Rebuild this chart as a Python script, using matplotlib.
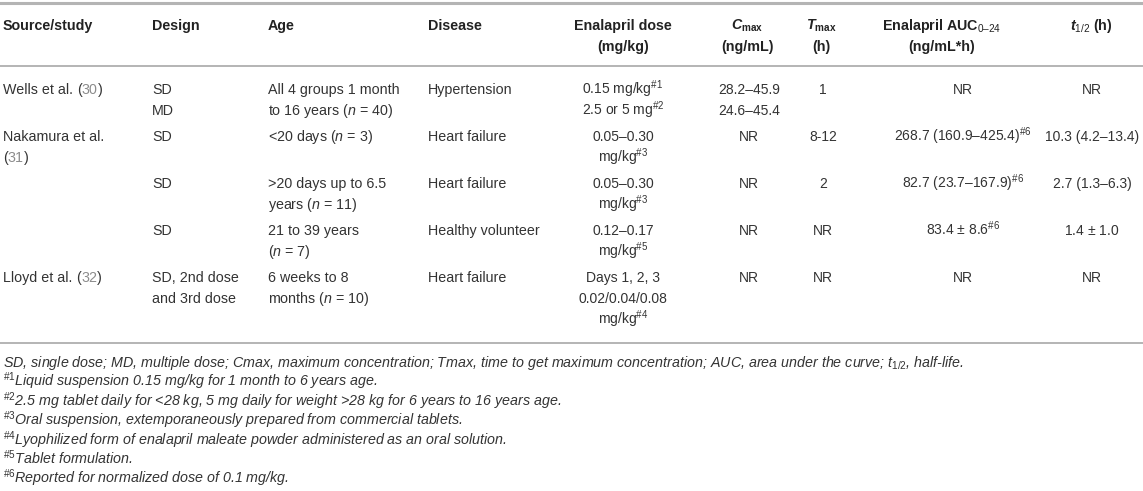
import matplotlib
matplotlib.use("Agg")
import matplotlib.pyplot as plt

plt.rcParams['font.family'] = ['Liberation Sans', 'DejaVu Sans']
plt.rcParams['mathtext.fontset'] = 'custom'
plt.rcParams['mathtext.rm'] = 'Liberation Sans'
plt.rcParams['mathtext.it'] = 'Liberation Sans:italic'
plt.rcParams['mathtext.bf'] = 'Liberation Sans:bold'
plt.rcParams['mathtext.bfit'] = 'Liberation Sans:italic:bold'

# Table content
headers_left = ["Source/study", "Design", "Age", "Disease"]
headers_center = [
    ["Enalapril dose", "(mg/kg)"],
    [r"$\mathbfit{C}_{\mathbf{max}}$", "(ng/mL)"],
    [r"$\mathbfit{T}_{\mathbf{max}}$", "(h)"],
    ["Enalapril AUC$_{0–24}$", "(ng/mL*h)"],
    [r"$\mathbfit{t}_{1/2}$ (h)"],
]

source = [["Wells et al. "], ["Nakamura et al.", ""], [], [], ["Lloyd et al. "]]
source_ref = ["30", "31", "", "", "32"]
design = [["SD", "MD"], ["SD"], ["SD"], ["SD"], ["SD, 2nd dose", "and 3rd dose"]]
age = [["All 4 groups 1 month", "to 16 years ($n$ = 40)"],
       ["<20 days ($n$ = 3)"],
       [">20 days up to 6.5", "years ($n$ = 11)"],
       ["21 to 39 years", "($n$ = 7)"],
       ["6 weeks to 8", "months ($n$ = 10)"]]
disease = [["Hypertension"], ["Heart failure"], ["Heart failure"],
           ["Healthy volunteer"], ["Heart failure"]]
dose = [[r"0.15 mg/kg$^{\#1}$", r"2.5 or 5 mg$^{\#2}$"],
        ["0.05–0.30", r"mg/kg$^{\#3}$"],
        ["0.05–0.30", r"mg/kg$^{\#3}$"],
        ["0.12–0.17", r"mg/kg$^{\#5}$"],
        ["Days 1, 2, 3", "0.02/0.04/0.08", r"mg/kg$^{\#4}$"]]
cmax = [["28.2–45.9", "24.6–45.4"], ["NR"], ["NR"], ["NR"], ["NR"]]
tmax = [["1"], ["8-12"], ["2"], ["NR"], ["NR"]]
auc = [["NR"], [r"268.7 (160.9–425.4)$^{\#6}$"], [r"82.7 (23.7–167.9)$^{\#6}$"],
       [r"83.4 $\pm$ 8.6$^{\#6}$"], ["NR"]]
thalf = [["NR"], ["10.3 (4.2–13.4)"], ["2.7 (1.3–6.3)"], [r"1.4 $\pm$ 1.0"], ["NR"]]

footnotes = [
    r"SD, single dose; MD, multiple dose; Cmax, maximum concentration; Tmax, time to get maximum concentration; AUC, area under the curve; $t_{1/2}$, half-life.",
    r"$^{\#1}$Liquid suspension 0.15 mg/kg for 1 month to 6 years age.",
    r"$^{\#2}$2.5 mg tablet daily for <28 kg, 5 mg daily for weight >28 kg for 6 years to 16 years age.",
    r"$^{\#3}$Oral suspension, extemporaneously prepared from commercial tablets.",
    r"$^{\#4}$Lyophilized form of enalapril maleate powder administered as an oral solution.",
    r"$^{\#5}$Tablet formulation.",
    r"$^{\#6}$Reported for normalized dose of 0.1 mg/kg.",
]

W, H = 1143, 491
TXT = '#333333'
HDR = '#222222'
REF = '#8c8c8c'
RULE = '#b4b4b4'
FS = 10.3

fig = plt.figure(figsize=(W / 100, H / 100), dpi=100)
ax = fig.add_axes([0, 0, 1, 1])
ax.set_xlim(0, W)
ax.set_ylim(H, 0)
ax.axis('off')
renderer = fig.canvas.get_renderer()

left_x = [3, 152, 268, 428]
center_x = [623, 747, 821, 942, 1091]
data_center_x = [623, 749, 823, 963, 1092]
line_h = 21
base = 5  # offset from line centre to baseline


def put(x, y, s, fs=FS, **kw):
    return ax.text(x, y + base, s, va='baseline', fontsize=fs, **kw)


def put_ref(x, y, ref):
    # "(30)" with the number in grey
    for piece, c in [("(", TXT), (ref, REF), (")", TXT)]:
        tt = put(x, y, piece, ha='left', color=c)
        x += tt.get_window_extent(renderer).width


# rules
ax.axhline(3, color=RULE, lw=2.2)
ax.axhline(66, color=RULE, lw=1.4)
ax.axhline(343, color=RULE, lw=1.4)

# header
for x, h in zip(left_x, headers_left):
    put(x, 25, h, ha='left', color=HDR, fontweight='bold')
for x, lines in zip(center_x, headers_center):
    for k, s in enumerate(lines):
        put(x, 25 + k * line_h, s, ha='center', color=HDR, fontweight='bold')

# body
y0 = 89
for i in range(len(design)):
    for k, s in enumerate(source[i]):
        yy = y0 + k * line_h
        if s:
            t = put(left_x[0], yy, s, ha='left', color=TXT)
            if source_ref[i] and len(source[i]) == 1:
                put_ref(left_x[0] + t.get_window_extent(renderer).width, yy, source_ref[i])
        elif source_ref[i]:
            put_ref(left_x[0], yy, source_ref[i])
    for col, x in zip([design, age, disease], left_x[1:]):
        for k, s in enumerate(col[i]):
            put(x, y0 + k * line_h, s, ha='left', color=TXT)
    for col, x in zip([dose, cmax, tmax, auc, thalf], data_center_x):
        for k, s in enumerate(col[i]):
            put(x, y0 + k * line_h, s, fs=10, ha='center', color=TXT)
    nlines = max(len(design[i]), len(age[i]), len(dose[i]), len(cmax[i]), len(source[i]))
    y0 += nlines * line_h + 5

# footnotes
for k, s in enumerate(footnotes):
    put(3, 362 + k * 19.4, s, ha='left', color=TXT, fontstyle='italic')

fig.savefig("out.png", dpi=100)
